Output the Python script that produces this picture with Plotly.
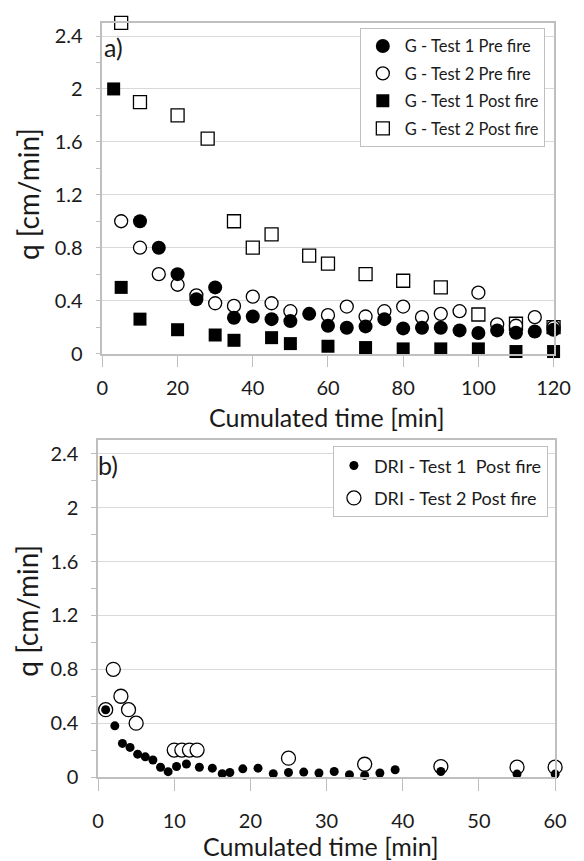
import plotly.graph_objects as go

# ---------------- data: panel a) ----------------
g_pre1_x = [10, 15, 20, 25, 30, 35, 40, 45, 50, 55, 60, 65, 70, 75, 80, 85, 90, 95, 100, 105, 110, 115, 120]
g_pre1_y = [1.0, 0.8, 0.6, 0.41, 0.5, 0.27, 0.28, 0.26, 0.245, 0.3, 0.21, 0.195, 0.205, 0.26, 0.19, 0.195,
            0.195, 0.175, 0.155, 0.175, 0.157, 0.167, 0.18]

g_pre2_x = [5, 10, 15, 20, 25, 30, 35, 40, 45, 50, 60, 65, 70, 75, 80, 85, 90, 95, 100, 105, 110, 115, 120]
g_pre2_y = [1.0, 0.8, 0.6, 0.52, 0.44, 0.38, 0.36, 0.43, 0.38, 0.32, 0.29, 0.355, 0.28, 0.32, 0.355, 0.275,
            0.3, 0.32, 0.46, 0.22, 0.21, 0.275, 0.2]

g_post1_x = [3, 5, 10, 20, 30, 35, 45, 50, 60, 70, 80, 90, 100, 110, 120]
g_post1_y = [2.0, 0.5, 0.26, 0.18, 0.14, 0.1, 0.12, 0.075, 0.055, 0.045, 0.035, 0.035, 0.035, 0.015, 0.015]

g_post2_x = [5, 10, 20, 28, 35, 40, 45, 55, 60, 70, 80, 90, 100, 110, 120]
g_post2_y = [2.5, 1.9, 1.8, 1.625, 1.0, 0.8, 0.9, 0.74, 0.68, 0.6, 0.55, 0.5, 0.295, 0.225, 0.2]

# ---------------- data: panel b) ----------------
dri1_x = [1, 2.2, 3.2, 4.2, 5.2, 6.2, 7.2, 8.2, 9.2, 10.3, 11.6, 13.3, 15, 16.3, 17.3, 19, 21, 23, 25, 27,
          29, 31, 33, 35, 37, 39, 45, 55, 60]
dri1_y = [0.5, 0.38, 0.25, 0.22, 0.17, 0.15, 0.127, 0.073, 0.04, 0.078, 0.097, 0.073, 0.066, 0.025, 0.034,
          0.061, 0.066, 0.025, 0.034, 0.037, 0.03, 0.041, 0.017, 0.012, 0.03, 0.054, 0.041, 0.022, 0.022]

dri2_x = [1, 2, 3, 4, 5, 10, 11, 12, 13, 25, 35, 45, 55, 60]
dri2_y = [0.5, 0.8, 0.6, 0.5, 0.4, 0.2, 0.2, 0.2, 0.2, 0.14, 0.095, 0.078, 0.073, 0.073]

# ---------------- tick labels / titles ----------------
y_tickvals = [0, 0.4, 0.8, 1.2, 1.6, 2.0, 2.4]
y_ticktext = ["0", "0.4", "0.8", "1.2", "1.6", "2", "2.4"]
xa_tickvals = [0, 20, 40, 60, 80, 100, 120]
xb_tickvals = [0, 10, 20, 30, 40, 50, 60]
x_title = "Cumulated time [min]"
y_title = "q [cm/min]"

FONT = "Lato"
TXT = "#1a1a1a"
AXC = "#bfbfbf"
GRID = "#d9d9d9"

W, H = 584, 861

fig = go.Figure()

open_line = dict(color="black", width=1.3)

# panel a) -- drawing order: open squares, filled squares, open circles, filled circles
fig.add_trace(go.Scatter(x=g_post2_x, y=g_post2_y, mode="markers", name="G - Test 2 Post fire",
                         marker=dict(symbol="square", size=13, color="white", line=open_line),
                         xaxis="x", yaxis="y", legend="legend", legendrank=4, legendgroup="a4",
                         cliponaxis=False))
fig.add_trace(go.Scatter(x=g_post1_x, y=g_post1_y, mode="markers", name="G - Test 1 Post fire",
                         marker=dict(symbol="square", size=13, color="black", line=dict(width=0)),
                         xaxis="x", yaxis="y", legend="legend", legendrank=3, legendgroup="a3",
                         cliponaxis=False))
fig.add_trace(go.Scatter(x=g_pre2_x, y=g_pre2_y, mode="markers", name="G - Test 2 Pre fire",
                         marker=dict(symbol="circle", size=13, color="white", line=open_line),
                         xaxis="x", yaxis="y", legend="legend", legendrank=2, legendgroup="a2",
                         cliponaxis=False))
fig.add_trace(go.Scatter(x=g_pre1_x, y=g_pre1_y, mode="markers", name="G - Test 1 Pre fire",
                         marker=dict(symbol="circle", size=14, color="black", line=dict(width=0)),
                         xaxis="x", yaxis="y", legend="legend", legendrank=1, legendgroup="a1",
                         cliponaxis=False))

# panel b)
fig.add_trace(go.Scatter(x=dri2_x, y=dri2_y, mode="markers", name="DRI - Test 2 Post fire",
                         marker=dict(symbol="circle", size=14, color="white", line=open_line),
                         xaxis="x2", yaxis="y2", legend="legend2", legendrank=2, legendgroup="b2",
                         cliponaxis=False))
fig.add_trace(go.Scatter(x=dri1_x, y=dri1_y, mode="markers", name="DRI - Test 1  Post fire",
                         marker=dict(symbol="circle", size=9, color="black", line=dict(width=0)),
                         xaxis="x2", yaxis="y2", legend="legend2", legendrank=1, legendgroup="b1",
                         cliponaxis=False))

def xdom(l, r):
    return [l / W, r / W]

def ydom(t, b):
    return [1 - b / H, 1 - t / H]

common_x = dict(showgrid=False, zeroline=False, showline=True, linecolor=AXC, linewidth=1.5, mirror=True,
                ticks="outside", ticklen=12, tickcolor=AXC, tickwidth=1.2,
                tickfont=dict(family=FONT, size=20, color=TXT))
common_y = dict(showgrid=True, gridcolor=GRID, gridwidth=1, zeroline=False, showline=True, linecolor=AXC,
                linewidth=1.5, mirror=True, ticks="", tickvals=y_tickvals, ticktext=y_ticktext,
                minor=dict(ticks="outside", ticklen=5, tickcolor=AXC, dtick=0.2, showgrid=False),
                range=[0, 2.5], tickfont=dict(family=FONT, size=20, color=TXT), ticklabelstandoff=14)

def title_ann(text, x, y, angle=0, size=25):
    return dict(text=text, xref="paper", yref="paper", x=x / W, y=1 - y / H, xanchor="center",
                yanchor="middle", showarrow=False, textangle=angle,
                font=dict(family=FONT, size=size, color=TXT))

fig.update_layout(
    width=W, height=H, autosize=False,
    margin=dict(l=0, r=0, t=0, b=0),
    paper_bgcolor="white", plot_bgcolor="white",
    font=dict(family=FONT, color=TXT),
    xaxis=dict(common_x, domain=xdom(92, 561.7), anchor="y", range=[0, 120], tickvals=xa_tickvals,
               ticklabelstandoff=4),
    yaxis=dict(common_y, domain=ydom(15, 350), anchor="x"),
    xaxis2=dict(common_x, domain=xdom(87.5, 563.3), anchor="y2", range=[0, 60], tickvals=xb_tickvals,
                ticklabelstandoff=13),
    yaxis2=dict(common_y, domain=ydom(438, 779), anchor="x2"),
    legend=dict(x=360 / W, y=1 - 20 / H, xanchor="left", yanchor="top", bgcolor="white",
                bordercolor=AXC, borderwidth=1, font=dict(family=FONT, size=16.5, color=TXT),
                tracegroupgap=3, traceorder="grouped", itemwidth=34),
    legend2=dict(x=332 / W, y=1 - 444 / H, xanchor="left", yanchor="top", bgcolor="white",
                 bordercolor=AXC, borderwidth=1, font=dict(family=FONT, size=18, color=TXT),
                 tracegroupgap=6, traceorder="grouped"),
    annotations=[
        dict(text="a)", xref="paper", yref="paper", x=92 / W, y=1 - 40 / H, xanchor="left",
             yanchor="middle", showarrow=False, font=dict(family=FONT, size=25, color=TXT)),
        dict(text="b)", xref="paper", yref="paper", x=85 / W, y=1 - 463 / H, xanchor="left",
             yanchor="middle", showarrow=False, font=dict(family=FONT, size=25, color=TXT)),
        title_ann(x_title, 326, 414),
        title_ann(x_title, 320, 849),
        title_ann(y_title, 14, 188, -90, 28),
        title_ann(y_title, 14, 610, -90, 28),
    ],
)

fig.write_html("out.html")
